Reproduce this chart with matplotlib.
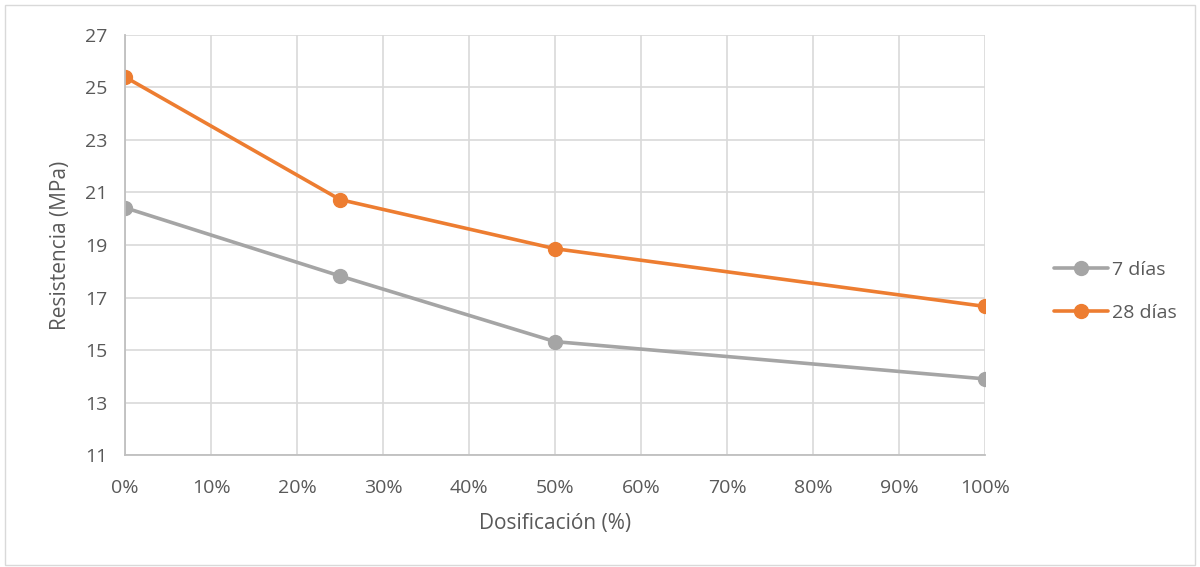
import matplotlib
matplotlib.use("Agg")
import matplotlib.pyplot as plt
from matplotlib.ticker import PercentFormatter
from matplotlib.patches import Rectangle

# Dosage (fraction of replacement) and compressive strength in MPa
dosificacion = [0.0, 0.25, 0.50, 1.00]
resistencia_7 = [20.42, 17.82, 15.32, 13.90]
resistencia_28 = [25.40, 20.73, 18.86, 16.66]
series_labels = ["7 días", "28 días"]
y_ticks = [11, 13, 15, 17, 19, 21, 23, 25, 27]
x_ticks = [i / 10 for i in range(11)]

plt.rcParams["font.family"] = ["Open Sans", "DejaVu Sans"]
text_color = "#595959"
grid_color = "#d9d9d9"
axis_color = "#bfbfbf"

fig = plt.figure(figsize=(12, 5.67), dpi=100)
ax = fig.add_axes([0.1042, 0.1975, 0.7166, 0.7408])

ax.plot(dosificacion, resistencia_7, color="#a5a5a5", lw=2.6, marker="o",
        markersize=10, label=series_labels[0], solid_capstyle="round")
ax.plot(dosificacion, resistencia_28, color="#ed7d31", lw=2.6, marker="o",
        markersize=10, label=series_labels[1], solid_capstyle="round")

ax.set_xlim(0, 1)
ax.set_ylim(11, 27)
ax.set_xticks(x_ticks)
ax.set_yticks(y_ticks)
ax.xaxis.set_major_formatter(PercentFormatter(1.0, decimals=0))
ax.grid(True, color=grid_color, lw=1.2)
ax.set_axisbelow(True)

for side in ["top", "right"]:
    ax.spines[side].set_visible(False)
for side in ["left", "bottom"]:
    ax.spines[side].set_color(axis_color)
    ax.spines[side].set_linewidth(1.3)

ax.tick_params(axis="both", length=0, labelsize=14, labelcolor=text_color)
ax.tick_params(axis="x", pad=17)
ax.tick_params(axis="y", pad=13)

ax.set_xlabel("Dosificación (%)", fontsize=15, color=text_color, labelpad=12)
ax.set_ylabel("Resistencia (MPa)", fontsize=15, color=text_color, labelpad=10)

leg = ax.legend(loc="center left", bbox_to_anchor=(1.06, 0.39), frameon=False,
                fontsize=14, handlelength=2.8, labelspacing=1.3,
                handletextpad=0.2)
for t in leg.get_texts():
    t.set_color(text_color)

# light frame around the whole chart
fig.patches.append(Rectangle((0.004, 0.004), 0.992, 0.988, transform=fig.transFigure,
                             fill=False, edgecolor="#d9d9d9", lw=1.0))

fig.savefig("out.png", dpi=100)
